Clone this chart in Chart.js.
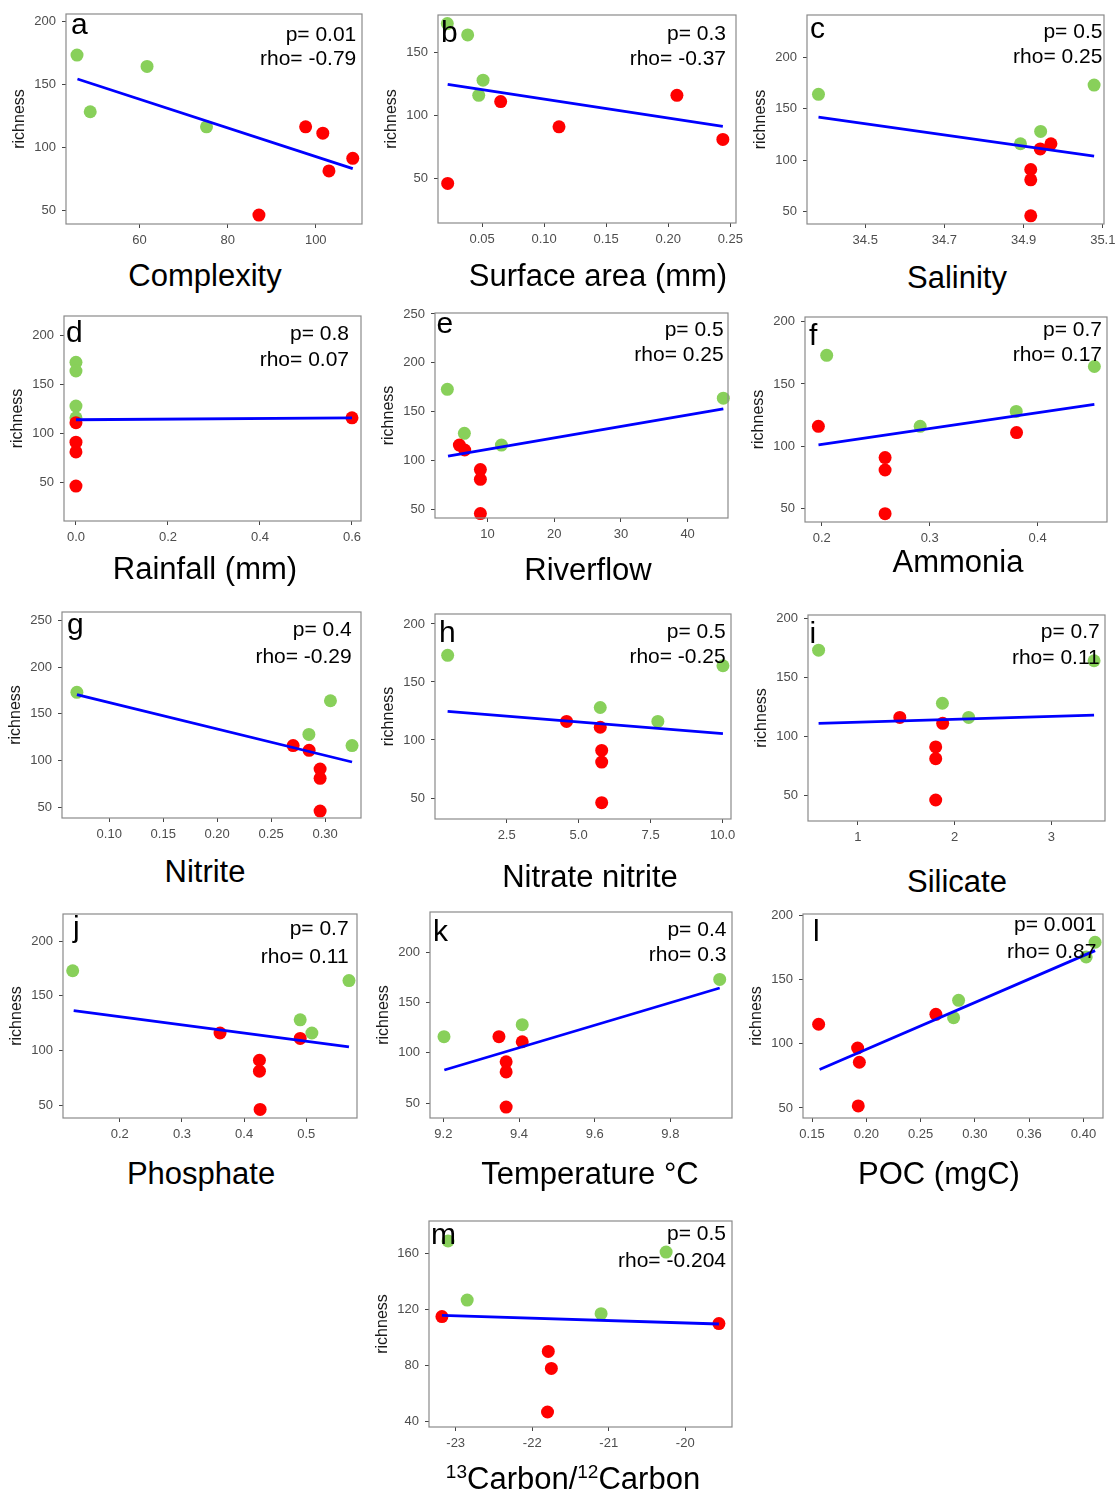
<!DOCTYPE html>
<html>
<head>
<meta charset="utf-8">
<script src="https://cdn.jsdelivr.net/npm/chart.js@4.4.0/dist/chart.umd.min.js"></script>
<style>
body { margin: 0; background: #fff; width: 1117px; height: 1492px; position: relative; overflow: hidden;
       font-family: "Liberation Sans", Arial, sans-serif; }
.xt { position: absolute; transform: translate(-50%, -50%); font-size: 31px; line-height: 1; white-space: nowrap; color: #000; }
.xt sup { font-size: 19px; vertical-align: 11px; line-height: 0; }
</style>
</head>
<body>
<script>
// richness shared by most panels (green sites, red sites)
const richGreen = [173, 164, 128, 116];
const richRed = [116, 111, 91, 81, 46];

// x values per panel, same order as richness; fit = [x1, y1, x2, y2]
const complexityGreen = [45.8, 61.7, 48.8, 75.2];
const complexityRed = [97.7, 101.6, 108.4, 103.0, 87.1];
const complexityFit = [45.9, 154, 108.4, 82.8];

const surfaceGreen = [0.022, 0.0384, 0.0508, 0.0473];
const surfaceRed = [0.207, 0.065, 0.112, 0.244, 0.0223];
const surfaceFit = [0.0223, 124.7, 0.244, 91.4];

const salinityGreen = [35.078, 34.382, 34.943, 34.892];
const salinityRed = [34.969, 34.942, 34.918, 34.918, 34.918];
const salinityFit = [34.382, 141.9, 35.078, 103.9];

const rainfallGreen = [0, 0, 0, 0];
const rainfallRed = [0.6, 0, 0, 0, 0];
const rainfallFit = [0, 114, 0.6, 116];

const riverGreen = [4.0, 45.35, 6.55, 12.1];
const riverRed = [5.8, 6.6, 8.95, 8.95, 8.95];
const riverFit = [4.1, 104.8, 45.35, 153.1];

const ammoniaGreen = [0.2046, 0.4526, 0.3802, 0.2912];
const ammoniaRed = [0.1969, 0.3805, 0.2587, 0.2587, 0.2587];
const ammoniaFit = [0.197, 101.2, 0.4526, 133.6];

const nitriteGreen = [0.070, 0.305, 0.285, 0.325];
const nitriteRed = [0.2704, 0.2852, 0.2954, 0.2954, 0.2954];
const nitriteFit = [0.070, 170.5, 0.325, 98.5];

const nitrateGreen = [0.451, 10.01, 5.75, 7.75];
const nitrateRed = [4.58, 5.75, 5.8, 5.8, 5.8];
const nitrateFit = [0.45, 124.7, 10.01, 105.5];

const silicateGreen = [0.594, 3.44, 1.873, 2.144];
const silicateRed = [1.433, 1.876, 1.804, 1.804, 1.804];
const silicateFit = [0.594, 111, 3.44, 118];

const phosphateGreen = [0.1242, 0.5688, 0.4903, 0.5091];
const phosphateRed = [0.3613, 0.4903, 0.4247, 0.4247, 0.4258];
const phosphateFit = [0.1258, 136.5, 0.5688, 103.2];

const tempGreen = [9.9303, 9.4085, 9.2018];
const tempGreenRich = [173, 128, 116];
const tempRed = [9.347, 9.4085, 9.366, 9.366, 9.366];
const tempFit = [9.2027, 82.9, 9.9303, 164.5];

const pocGreen = [0.4107, 0.4025, 0.285, 0.2804];
const pocGreenRich = [179, 167.6, 133.8, 120.3];
const pocRed = [0.2641, 0.1561, 0.192, 0.1936, 0.1926];
const pocRedRich = [122.9, 115.2, 96.7, 85.6, 51.6];
const pocFit = [0.157, 79.9, 0.4107, 172.5];

const carbonGreen = [-23.10, -20.25, -22.85, -21.10];
const carbonGreenRich = [168.8, 160.8, 126.6, 116.9];
const carbonRed = [-23.18, -19.56, -21.79, -21.75, -21.80];
const carbonRedRich = [114.8, 109.8, 89.9, 77.8, 46.7];
const carbonFit = [-23.18, 115.7, -19.56, 109.5];

// tick values and labels
const yTicks200 = [50, 100, 150, 200];
const yTicks250 = [50, 100, 150, 200, 250];
const yTicks150 = [50, 100, 150];
const yTicksCarbon = [40, 80, 120, 160];
const complexityTicks = [60, 80, 100];
const complexityLabels = ["60", "80", "100"];
const surfaceTicks = [0.05, 0.10, 0.15, 0.20, 0.25];
const surfaceLabels = ["0.05", "0.10", "0.15", "0.20", "0.25"];
const salinityTicks = [34.5, 34.7, 34.9, 35.1];
const salinityLabels = ["34.5", "34.7", "34.9", "35.1"];
const rainfallTicks = [0, 0.2, 0.4, 0.6];
const rainfallLabels = ["0.0", "0.2", "0.4", "0.6"];
const riverTicks = [10, 20, 30, 40];
const riverLabels = ["10", "20", "30", "40"];
const ammoniaTicks = [0.2, 0.3, 0.4];
const ammoniaLabels = ["0.2", "0.3", "0.4"];
const nitriteTicks = [0.10, 0.15, 0.20, 0.25, 0.30];
const nitriteLabels = ["0.10", "0.15", "0.20", "0.25", "0.30"];
const nitrateTicks = [2.5, 5, 7.5, 10];
const nitrateLabels = ["2.5", "5.0", "7.5", "10.0"];
const silicateTicks = [1, 2, 3];
const silicateLabels = ["1", "2", "3"];
const phosphateTicks = [0.2, 0.3, 0.4, 0.5];
const phosphateLabels = ["0.2", "0.3", "0.4", "0.5"];
const tempTicks = [9.2, 9.4, 9.6, 9.8];
const tempLabels = ["9.2", "9.4", "9.6", "9.8"];
const pocTicks = [0.15, 0.20, 0.25, 0.30, 0.35, 0.40];
const pocLabels = ["0.15", "0.20", "0.25", "0.30", "0.36", "0.40"];
const carbonTicks = [-23, -22, -21, -20];
const carbonLabels = ["-23", "-22", "-21", "-20"];

const panels = [
  {letter: "a", p: "0.01", rho: "-0.79", title: "Complexity", gx: complexityGreen, gy: richGreen, rx: complexityRed, ry: richRed, fit: complexityFit,
   xt: complexityTicks, xl: complexityLabels, yt: yTicks200, frame: [66, 14, 362, 224], xr: [43.3, 110.5], yr: [38.9, 205.6], lt: [5, 20], pt: [5.7, 27, 51], tc: [205, 275]},
  {letter: "b", p: "0.3", rho: "-0.37", title: "Surface area (mm)", gx: surfaceGreen, gy: richGreen, rx: surfaceRed, ry: richRed, fit: surfaceFit,
   xt: surfaceTicks, xl: surfaceLabels, yt: yTicks150, frame: [438, 15, 736, 223], xr: [0.0145, 0.2546], yr: [14.6, 179.8], lt: [3, 27], pt: [10, 25.3, 50.3], tc: [598, 275]},
  {letter: "c", p: "0.5", rho: "0.25", title: "Salinity", gx: salinityGreen, gy: richGreen, rx: salinityRed, ry: richRed, fit: salinityFit,
   xt: salinityTicks, xl: salinityLabels, yt: yTicks200, frame: [807, 15, 1104, 224], xr: [34.353, 35.103], yr: [38.1, 241], lt: [3, 23.3], pt: [1.6, 23.3, 48.3], tc: [957, 277]},
  {letter: "d", p: "0.8", rho: "0.07", title: "Rainfall (mm)", gx: rainfallGreen, gy: richGreen, rx: rainfallRed, ry: richRed, fit: rainfallFit,
   xt: rainfallTicks, xl: rainfallLabels, yt: yTicks200, frame: [64, 316, 361, 521], xr: [-0.026, 0.6196], yr: [10.2, 220.4], lt: [2, 26], pt: [12, 24, 50], tc: [205, 568]},
  {letter: "e", p: "0.5", rho: "0.25", title: "Riverflow", gx: riverGreen, gy: richGreen, rx: riverRed, ry: richRed, fit: riverFit,
   xt: riverTicks, xl: riverLabels, yt: yTicks250, frame: [435, 313, 728, 518], xr: [2.15, 46.05], yr: [41.5, 251], lt: [1.5, 20], pt: [4.4, 23.4, 48.4], tc: [588, 569]},
  {letter: "f", p: "0.7", rho: "0.17", title: "Ammonia", gx: ammoniaGreen, gy: richGreen, rx: ammoniaRed, ry: richRed, fit: ammoniaFit,
   xt: ammoniaTicks, xl: ammoniaLabels, yt: yTicks200, frame: [805, 317, 1107, 522], xr: [0.1845, 0.4643], yr: [39.3, 203.7], lt: [4, 27.7], pt: [5, 19.4, 44.4], tc: [958, 561]},
  {letter: "g", p: "0.4", rho: "-0.29", title: "Nitrite", gx: nitriteGreen, gy: richGreen, rx: nitriteRed, ry: richRed, fit: nitriteFit,
   xt: nitriteTicks, xl: nitriteLabels, yt: yTicks250, frame: [62, 612, 361, 818], xr: [0.0562, 0.3333], yr: [38.6, 258.9], lt: [5, 21.5], pt: [9.3, 24.4, 51], tc: [205, 871]},
  {letter: "h", p: "0.5", rho: "-0.25", title: "Nitrate nitrite", gx: nitrateGreen, gy: richGreen, rx: nitrateRed, ry: richRed, fit: nitrateFit,
   xt: nitrateTicks, xl: nitrateLabels, yt: yTicks200, frame: [435, 614, 731, 819], xr: [0.0116, 10.29], yr: [31.9, 208.6], lt: [4, 27.7], pt: [5.3, 24.3, 49.3], tc: [590, 876]},
  {letter: "i", p: "0.7", rho: "0.11", title: "Silicate", gx: silicateGreen, gy: richGreen, rx: silicateRed, ry: richRed, fit: silicateFit,
   xt: silicateTicks, xl: silicateLabels, yt: yTicks200, frame: [808, 615, 1105, 821], xr: [0.4845, 3.553], yr: [28.2, 202.8], lt: [1.5, 28.3], pt: [5.3, 23.3, 49.3], tc: [957, 881]},
  {letter: "j", p: "0.7", rho: "0.11", title: "Phosphate", gx: phosphateGreen, gy: richGreen, rx: phosphateRed, ry: richRed, fit: phosphateFit,
   xt: phosphateTicks, xl: phosphateLabels, yt: yTicks200, frame: [63, 914, 357, 1118], xr: [0.1086, 0.5817], yr: [38.1, 225], lt: [10, 23], pt: [8.4, 20.7, 49], tc: [201, 1173]},
  {letter: "k", p: "0.4", rho: "0.3", title: "Temperature °C", gx: tempGreen, gy: tempGreenRich, rx: tempRed, ry: richRed, fit: tempFit,
   xt: tempTicks, xl: tempLabels, yt: yTicks200, frame: [430, 912, 732, 1118], xr: [9.1648, 9.9628], yr: [35.1, 240.1], lt: [3, 29.4], pt: [5.6, 24.4, 49.4], tc: [590, 1173]},
  {letter: "l", p: "0.001", rho: "0.87", title: "POC (mgC)", gx: pocGreen, gy: pocGreenRich, rx: pocRed, ry: pocRedRich, fit: pocFit,
   xt: pocTicks, xl: pocLabels, yt: yTicks200, frame: [803, 914, 1103, 1118], xr: [0.1417, 0.418], yr: [42.2, 201], lt: [10, 27.4], pt: [6.6, 17.4, 44], tc: [939, 1173]},
  {letter: "m", p: "0.5", rho: "-0.204", title: "<sup>13</sup>Carbon/<sup>12</sup>Carbon", gx: carbonGreen, gy: carbonGreenRich, rx: carbonRed, ry: carbonRedRich, fit: carbonFit,
   xt: carbonTicks, xl: carbonLabels, yt: yTicksCarbon, frame: [429, 1221, 732, 1427], xr: [-23.349, -19.389], yr: [36, 183], lt: [2, 22.6], pt: [6, 19.3, 46], tc: [573, 1478]}
];

Chart.defaults.font.family = '"Liberation Sans", Arial, sans-serif';

// panel border + letter + p / rho text
const panelText = {
  id: "panelText",
  afterDatasetsDraw(chart, args, o) {
    const ctx = chart.ctx, a = chart.chartArea;
    ctx.save();
    ctx.strokeStyle = "#8a8a8a";
    ctx.lineWidth = 1.2;
    ctx.strokeRect(a.left, a.top, a.right - a.left, a.bottom - a.top);
    ctx.fillStyle = "#000";
    ctx.textBaseline = "alphabetic";
    ctx.textAlign = "left";
    ctx.font = '30px "Liberation Sans", Arial, sans-serif';
    ctx.fillText(o.letter, a.left + o.lt[0], a.top + o.lt[1]);
    ctx.textAlign = "right";
    ctx.font = '21px "Liberation Sans", Arial, sans-serif';
    ctx.fillText("p= " + o.p, a.right - o.pt[0], a.top + o.pt[1]);
    ctx.fillText("rho= " + o.rho, a.right - o.pt[0], a.top + o.pt[2]);
    ctx.restore();
  }
};

const padL = 64, padT = 16, padR = 20, axH = 32;
const pts = (xs, ys) => xs.map((x, i) => ({x: x, y: ys[i]}));

panels.forEach(function(pn) {
  const fl = pn.frame[0], ft = pn.frame[1], fr = pn.frame[2], fb = pn.frame[3];
  const w = fr - fl + padL + padR, h = fb - ft + padT + axH;
  const cv = document.createElement("canvas");
  cv.width = w; cv.height = h;
  cv.style.cssText = "position:absolute;left:" + (fl - padL) + "px;top:" + (ft - padT) + "px;width:" + w + "px;height:" + h + "px";
  document.body.appendChild(cv);

  const t = document.createElement("div");
  t.className = "xt";
  t.style.left = pn.tc[0] + "px";
  t.style.top = pn.tc[1] + "px";
  t.innerHTML = pn.title;
  document.body.appendChild(t);

  new Chart(cv, {
    type: "scatter",
    data: {
      datasets: [
        {type: "line", data: [{x: pn.fit[0], y: pn.fit[1]}, {x: pn.fit[2], y: pn.fit[3]}],
         borderColor: "#0000ff", borderWidth: 2.8, pointRadius: 0, fill: false, clip: false},
        {data: pts(pn.rx, pn.ry), backgroundColor: "#ff0000", pointRadius: 6.5, borderWidth: 0, clip: false},
        {data: pts(pn.gx, pn.gy), backgroundColor: "#88d05a", pointRadius: 6.5, borderWidth: 0, clip: false}
      ]
    },
    options: {
      responsive: false,
      animation: false,
      events: [],
      layout: {padding: {left: 0, top: padT, right: padR, bottom: 0}},
      plugins: {
        legend: {display: false},
        tooltip: {enabled: false},
        panelText: {letter: pn.letter, p: pn.p, rho: pn.rho, lt: pn.lt, pt: pn.pt}
      },
      scales: {
        x: {
          type: "linear", position: "bottom", min: pn.xr[0], max: pn.xr[1],
          afterBuildTicks: s => { s.ticks = pn.xt.map(v => ({value: v})); },
          afterFit: s => { s.height = axH; },
          ticks: {callback: (v, i) => pn.xl[i], font: {size: 13}, color: "#4d4d4d", padding: 5, maxRotation: 0, autoSkip: false},
          grid: {display: true, drawOnChartArea: false, drawTicks: true, tickLength: 4, color: "#444"},
          border: {display: false}
        },
        y: {
          type: "linear", position: "left", min: pn.yr[0], max: pn.yr[1],
          afterBuildTicks: s => { s.ticks = pn.yt.map(v => ({value: v})); },
          afterFit: s => { s.width = padL; },
          ticks: {callback: v => String(v), font: {size: 13}, color: "#4d4d4d", padding: 6, autoSkip: false},
          grid: {display: true, drawOnChartArea: false, drawTicks: true, tickLength: 4, color: "#444"},
          border: {display: false},
          title: {display: true, text: "richness", font: {size: 16}, color: "#1a1a1a", padding: {top: 8, bottom: 0}}
        }
      }
    },
    plugins: [panelText]
  });
});
</script>
</body>
</html>
